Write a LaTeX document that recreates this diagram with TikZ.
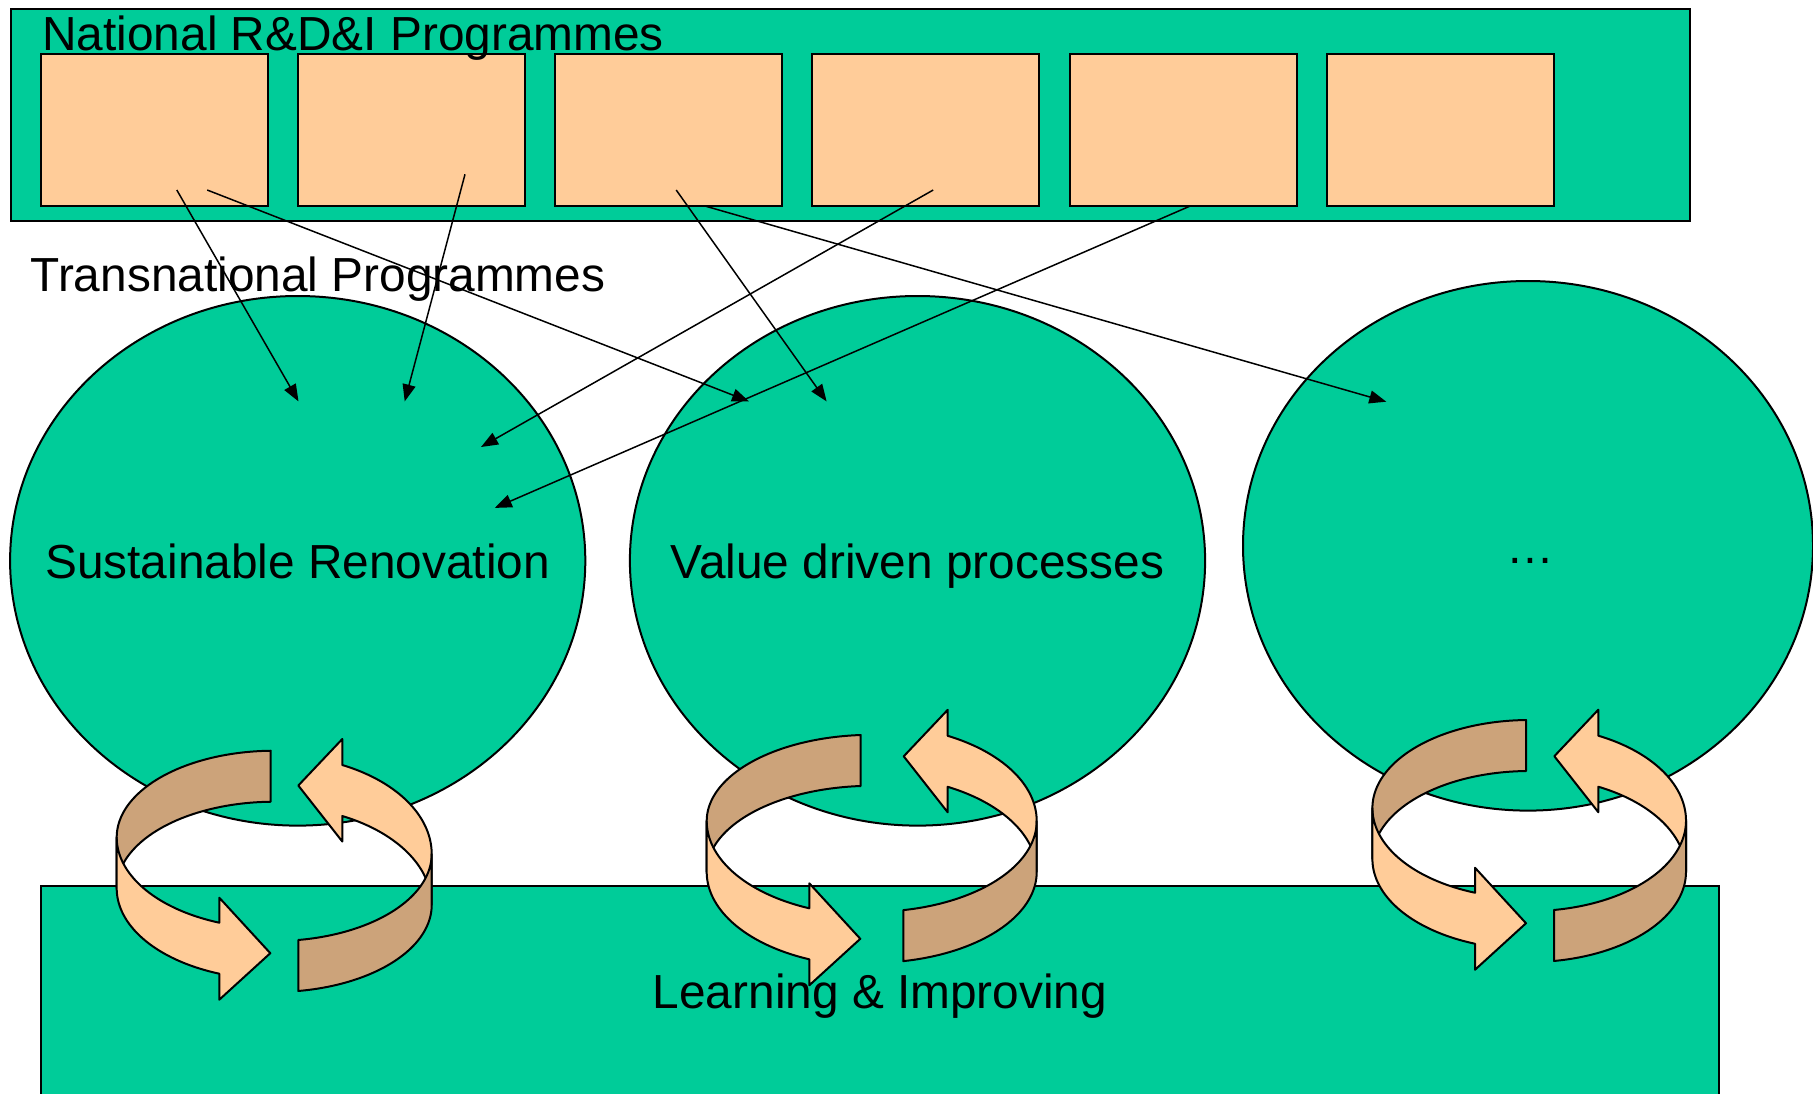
\documentclass[tikz,border=0pt]{standalone}
\usepackage{fontspec}
\setmainfont{Liberation Sans}
\usetikzlibrary{shapes.geometric,arrows.meta}
\definecolor{boxgreen}{RGB}{0,204,153}
\definecolor{peach}{RGB}{255,204,153}
\definecolor{peachshade}{RGB}{204,163,122}

\tikzset{
  greenrect/.style={rectangle, draw=black, fill=boxgreen, line width=1pt, inner sep=0pt, outer sep=0pt},
  pbox/.style={rectangle, draw=black, fill=peach, line width=1pt, inner sep=0pt, outer sep=0pt,
               minimum width=113.45pt, minimum height=75.85pt},
  ell/.style={ellipse, draw=black, fill=boxgreen, line width=1pt, inner sep=0pt, outer sep=0pt,
              minimum height=264.8pt},
  lbl/.style={inner sep=0pt, outer sep=0pt},
  conn/.style={line width=0.75pt, -{Triangle[length=8.5pt,width=6.5pt]}},
  cycpeach/.style={fill=peach, draw=black, line width=1pt, line join=round},
  cycshade/.style={fill=peachshade, draw=black, line width=1pt, line join=round}
}

% #1 cx, #2 R, #3 yLeft, #4 yRight, #5 xA, #6 xB, #7 xC, #8 xD
\newcommand{\ringcycle}[8]{%
  \pgfmathsetmacro{\cytA}{acos((#5-(#1))/(#2))}%
  \pgfmathsetmacro{\cytB}{acos((#6-(#1))/(#2))}%
  \pgfmathsetmacro{\cytC}{acos((#7-(#1))/(#2))}%
  \pgfmathsetmacro{\cytD}{acos((#8-(#1))/(#2))}%
  \pgfmathsetmacro{\cyuB}{#3+\cycRFL*sin(\cytB)}%
  \pgfmathsetmacro{\cyuC}{#4-\cycRBR*sin(\cytC)}%
  \filldraw[cycshade] plot[domain=\cytA:180] ({#1+#2*cos(\x)},{#3-\cycRBL*sin(\x)})
     -- plot[domain=180:\cytA] ({#1+#2*cos(\x)},{#3+\cych-\cycRBL*sin(\x)}) -- cycle;
  \filldraw[cycpeach] plot[domain=\cytC:0] ({#1+#2*cos(\x)},{#4-\cycRBR*sin(\x)})
     -- plot[domain=0:\cytC] ({#1+#2*cos(\x)},{#4+\cych-\cycRBR*sin(\x)})
     -- (#7,{\cyuC+\cych+25.5}) -- ({#7-44},{\cyuC+20.5}) -- (#7,{\cyuC-26}) -- cycle;
  \filldraw[cycpeach] plot[domain=180:\cytB] ({#1+#2*cos(\x)},{#3+\cycRFL*sin(\x)})
     -- (#6,{\cyuB-25}) -- ({#6+51},{\cyuB+30.5}) -- (#6,{\cyuB+\cych+26})
     -- plot[domain=\cytB:180] ({#1+#2*cos(\x)},{#3+\cych+\cycRFL*sin(\x)}) -- cycle;
  \filldraw[cycshade] plot[domain=\cytD:0] ({#1+#2*cos(\x)},{#4+\cycRFR*sin(\x)})
     -- plot[domain=0:\cytD] ({#1+#2*cos(\x)},{#4+\cych+\cycRFR*sin(\x)}) -- cycle;
}

\begin{document}
\begin{tikzpicture}[x=0.5pt, y=-0.5pt, samples=60, font=\fontsize{23.9}{28}\selectfont]
  \fill[white] (0,0) rectangle (1813,1093);
  \clip (0,0) rectangle (1813,1093);

  % National programmes band
  \node[greenrect, minimum width=839.5pt, minimum height=105.75pt] (natl) at (850,114.75) {};
  \foreach \i in {0,...,5}
    \node[pbox] (b\i) at ({154.25+257.2*\i},130.15) {};
  \node[lbl, anchor=base west] (natltxt) at (42.3,50.7) {National R\&D\&I Programmes};

  \node[lbl, anchor=base west] (transtxt) at (30.6,291.7) {Transnational Programmes};

  % transnational programme ellipses
  \node[ell, minimum width=287.6pt] (e1) at (297.7,560.8) {};
  \node[ell, minimum width=287.6pt] (e2) at (917.5,560.8) {};
  \node[ell, minimum width=285pt] (e3) at (1528,545.8) {};
  \node[lbl, anchor=base] (e1txt) at (297.7,578) {Sustainable Renovation};
  \node[lbl, anchor=base] (e2txt) at (917.5,578) {Value driven processes};
  \node[lbl, anchor=base] (e3txt) at (1530,563.5) {…};

  % learning band
  \node[greenrect, minimum width=839.3pt, minimum height=117.15pt] (learn) at (880,1002.85) {};
  \node[lbl, anchor=base] (learntxt) at (880,1008) {Learning \& Improving};

  % connector end points
  \coordinate (s1) at (176.8,190);   \coordinate (t1) at (298.5,401.4);
  \coordinate (s2) at (465,174.3);   \coordinate (t2) at (404.7,401.4);
  \coordinate (s3) at (207.2,190);   \coordinate (t3) at (749,401.4);
  \coordinate (s4) at (933.2,190);   \coordinate (t4) at (481,447);
  \coordinate (s5) at (1189.5,206.3); \coordinate (t5) at (494.8,507.9);
  \coordinate (s6) at (676.2,190);   \coordinate (t6) at (826.6,401.4);
  \coordinate (s7) at (706,206.3);   \coordinate (t7) at (1386.3,401.7);
  \foreach \k in {1,...,7}
    \draw[conn] (s\k) -- (t\k);

  % cycles
  \def\cych{51}
  \def\cycRBL{86.6}\def\cycRFL{91.1}\def\cycRBR{98.7}\def\cycRFR{87}
  \ringcycle{274.2}{157.5}{837.3}{854}{270.7}{219.3}{342.3}{298.3}
  \def\cycRBL{86.2}\def\cycRFL{94.3}\def\cycRBR{96}\def\cycRFR{90.8}
  \ringcycle{871.7}{165}{821}{821}{860.7}{809.3}{947.7}{903.3}
  \def\cycRBL{88}\def\cycRFL{90.3}\def\cycRBR{94.7}\def\cycRFR{90.4}
  \ringcycle{1529.2}{156.8}{808}{820.7}{1526}{1475}{1598.3}{1554}
\end{tikzpicture}
\end{document}
